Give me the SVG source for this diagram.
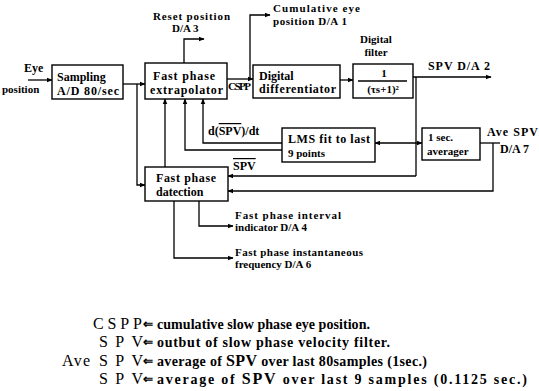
<svg xmlns="http://www.w3.org/2000/svg" width="539" height="391" viewBox="0 0 539 391">
<style>
.t{font-family:"Liberation Serif","Times New Roman",serif;font-weight:bold;font-size:12px;fill:#000}
.s{font-family:"Liberation Serif","Times New Roman",serif;font-size:11px;font-weight:bold;fill:#000}
.L{font-family:"Liberation Serif","Times New Roman",serif;font-size:16px;fill:#000}
.d{font-family:"Liberation Serif","Times New Roman",serif;font-weight:bold;font-size:14px;fill:#000}
.box{fill:#fff;stroke:#000;stroke-width:1.4}
.ln{fill:none;stroke:#000;stroke-width:1.3}
.ar{marker-end:url(#ah)}
.ov{text-decoration:overline}
</style>
<defs>
<marker id="ah" viewBox="0 0 10 10" refX="9" refY="5" markerWidth="6" markerHeight="6" orient="auto" markerUnits="userSpaceOnUse"><path d="M0,1 L10,5 L0,9 z" fill="#000"/></marker>
</defs>
<rect width="539" height="391" fill="#fff"/>

<g id="connectors">
<path class="ln ar" d="M28,80 H52"/>
<path class="ln ar" d="M123,84 H145"/>
<path class="ln ar" d="M137,84 V185 H145"/>
<path class="ln ar" d="M184,63 V39 H204"/>
<path class="ln ar" d="M227,79 H253"/>
<path class="ln ar" d="M250,79 V15 H270"/>
<path class="ln ar" d="M340,80 H353"/>
<path class="ln ar" d="M413,77 H491"/>
<path class="ln" d="M416,77 V176"/>
<path class="ln ar" d="M416,143 H422"/>
<path class="ln ar" d="M416,143 H375"/>
<path class="ln ar" d="M416,176 H228"/>
<path class="ln" d="M480,143 H500"/>
<path class="ln ar" d="M493,143 V191 H228"/>
<path class="ln ar" d="M282,143 H203 V99"/>
<path class="ln ar" d="M282,150 H185 V99"/>
<path class="ln ar" d="M165,167 V99"/>
<path class="ln ar" d="M199,201 V226 H233"/>
<path class="ln ar" d="M174,201 V258 H233"/>
</g>

<g id="eye-label">
<text class="t" x="24" y="72">Eye</text>
<text class="s" x="2" y="93">position</text>
</g>

<g id="sampling">
<rect class="box" x="52" y="65" width="71" height="34"/>
<text class="t" x="57" y="81">Sampling</text>
<text class="t" x="57" y="95" textLength="62">A/D 80/sec</text>
</g>

<g id="extrapolator">
<rect class="box" x="145" y="63" width="82" height="36"/>
<text class="t" x="153" y="80" textLength="62">Fast phase</text>
<text class="t" x="150" y="94" textLength="73">extrapolator</text>
</g>

<g id="reset-label">
<text class="s" x="153" y="20" textLength="77">Reset position</text>
<text class="s" x="172" y="32">D/A 3</text>
</g>

<g id="cspp-label">
<text class="s" x="228" y="90" font-size="10" textLength="23">CSPP</text>
</g>

<g id="cumulative-label">
<text class="s" x="273" y="12" textLength="87">Cumulative eye</text>
<text class="s" x="273" y="25" textLength="74">position D/A 1</text>
</g>

<g id="differentiator">
<rect class="box" x="253" y="65" width="87" height="33"/>
<text class="t" x="259" y="80">Digital</text>
<text class="t" x="259" y="93" textLength="77">differentiator</text>
</g>

<g id="filter">
<rect class="box" x="353" y="64" width="60" height="34"/>
<text class="s" x="376" y="43" text-anchor="middle">Digital</text>
<text class="s" x="376" y="56" text-anchor="middle">filter</text>
<text class="s" x="384" y="77" text-anchor="middle">1</text>
<line class="ln" x1="358" y1="81" x2="407" y2="81" stroke-width="1"/>
<text class="s" x="383" y="93" text-anchor="middle">(τs+1)²</text>
</g>

<g id="spv-out-label">
<text class="t" x="428" y="70" textLength="62">SPV D/A 2</text>
</g>

<g id="lms">
<rect class="box" x="282" y="128" width="93" height="34"/>
<text class="t" x="288" y="143" textLength="82">LMS fit to last</text>
<text class="s" x="288" y="157">9 points</text>
</g>

<g id="averager">
<rect class="box" x="422" y="128" width="58" height="32"/>
<text class="s" x="428" y="141">1 sec.</text>
<text class="s" x="427" y="155">averager</text>
</g>

<g id="ave-label">
<text class="t" x="487" y="136" textLength="51">Ave SPV</text>
<text class="t" x="500" y="153">D/A 7</text>
</g>

<g id="dspv-label">
<text class="t" x="208" y="135">d(<tspan class="ov">SPV</tspan>)/dt</text>
<text class="t" x="233" y="170"><tspan class="ov">SPV</tspan></text>
</g>

<g id="detection">
<rect class="box" x="145" y="167" width="83" height="34"/>
<text class="t" x="156" y="182" textLength="60">Fast phase</text>
<text class="t" x="156" y="196">datection</text>
</g>

<g id="interval-label">
<text class="s" x="235" y="219" textLength="106">Fast phase interval</text>
<text class="s" x="235" y="231">indicator D/A 4</text>
</g>

<g id="instant-label">
<text class="s" x="235" y="256" textLength="128">Fast phase instantaneous</text>
<text class="s" x="235" y="268">frequency D/A 6</text>
</g>

<g id="legend">
<text class="L" x="93" y="329" textLength="49">CSPP</text>
<text class="t" x="143" y="328">⇐</text>
<text class="d" x="157" y="329" textLength="213">cumulative slow phase eye position.</text>
<text class="L" x="99" y="347" textLength="44">SPV</text>
<text class="t" x="143" y="346">⇐</text>
<text class="d" x="157" y="347" textLength="233">outbut of slow phase velocity filter.</text>
<text class="L" x="62" y="366" textLength="28">Ave</text>
<text class="L" x="99" y="366" textLength="44">SPV</text>
<text class="t" x="143" y="365">⇐</text>
<text class="d" x="157" y="366" textLength="270">average of <tspan class="L" font-size="15">SPV</tspan> over last 80samples (1sec.)</text>
<text class="L" x="99" y="384" textLength="44">SPV</text>
<text class="t" x="143" y="383">⇐</text>
<text class="d" x="157" y="384" textLength="370">average of <tspan class="L" font-size="15">SPV</tspan> over last 9 samples (0.1125 sec.)</text>
</g>
</svg>
